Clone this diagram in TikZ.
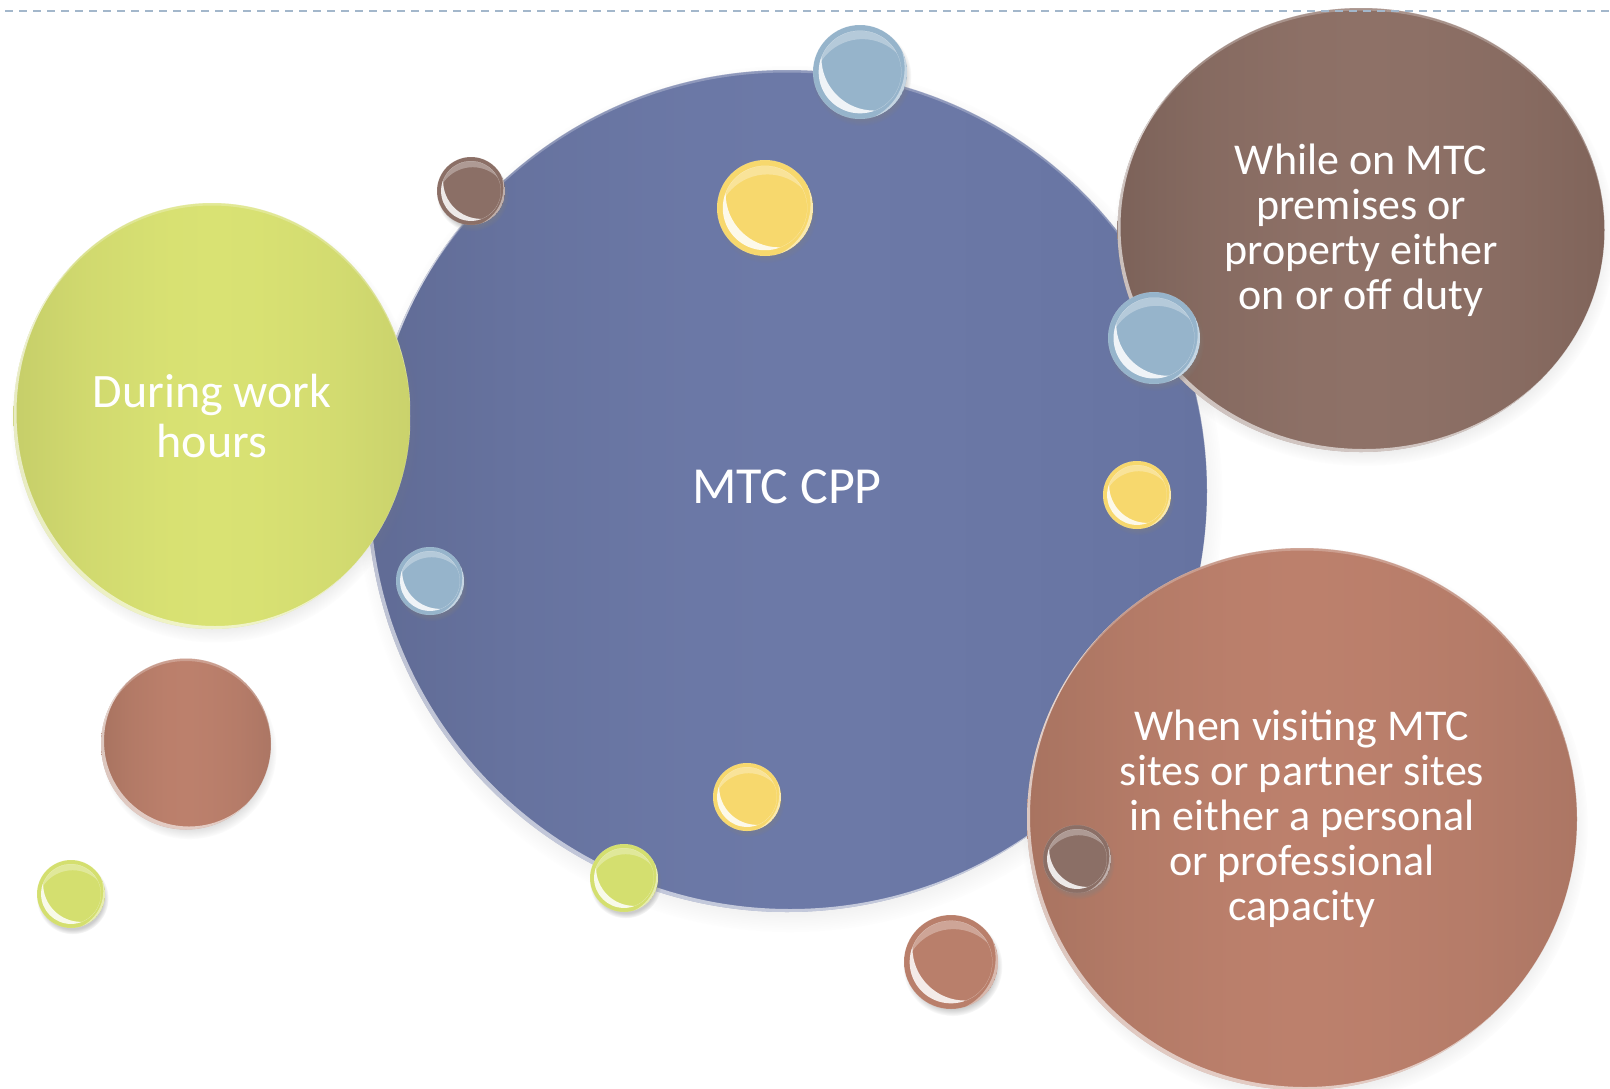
\documentclass[tikz,border=0pt]{standalone}
\usepackage{fontspec}
\setmainfont{Carlito}
\usetikzlibrary{shapes.geometric,shadows,fadings}
\definecolor{dashcol}{HTML}{A3B7CB}
\definecolor{blueL}{HTML}{606B95}
\definecolor{blueM}{HTML}{6C79A7}
\definecolor{blueR}{HTML}{6673A1}
\definecolor{grnL}{HTML}{C6CE69}
\definecolor{grnM}{HTML}{D9E273}
\definecolor{grnR}{HTML}{CAD26C}
\definecolor{mauL}{HTML}{7C6259}
\definecolor{mauM}{HTML}{8E7167}
\definecolor{mauR}{HTML}{80645A}
\definecolor{salL}{HTML}{A87360}
\definecolor{salM}{HTML}{BC806C}
\definecolor{salR}{HTML}{AC7664}
\definecolor{yel}{HTML}{F7D86D}
\definecolor{sky}{HTML}{96B4CB}
\definecolor{lime}{HTML}{D4DF6F}
\definecolor{sal}{HTML}{B97F6B}
\definecolor{mau}{HTML}{8B6F66}

\newcommand\mkshade[4]{\pgfdeclarehorizontalshading{#1}{100bp}{%
  color(0bp)=(#2); color(25bp)=(#2); color(34bp)=(#2!45!#3);
  color(44bp)=(#2!8!#3); color(50bp)=(#3); color(56bp)=(#4!8!#3);
  color(66bp)=(#4!45!#3); color(75bp)=(#4); color(100bp)=(#4)}}
\mkshade{blueshade}{blueL}{blueM}{blueR}
\mkshade{grnshade}{grnL}{grnM}{grnR}
\mkshade{maushade}{mauL}{mauM}{mauR}
\mkshade{salshade}{salL}{salM}{salR}

\newcommand\rimlight[3]{%
  \begin{scope}
    \clip (#1.center) ellipse [x radius=#2pt, y radius=#3pt];
    \fill[white, fill opacity=.6, even odd rule]
      (#1.center) ellipse [x radius=#2pt, y radius=#3pt]
      ([shift={(3pt,3pt)}]#1.center) ellipse [x radius=#2pt, y radius=#3pt];
    \fill[white, fill opacity=.25, even odd rule]
      (#1.center) ellipse [x radius=#2pt, y radius=#3pt]
      ([shift={(0pt,-2.5pt)}]#1.center) ellipse [x radius=#2pt, y radius=#3pt];
  \end{scope}}

\newcommand\bead[5]{%
  \node[beadnode, fill=#5, minimum size={2*#4pt}] (#1) at (#2,#3) {};
  \begin{scope}
    \clip (#1.center) circle [radius={0.88*#4pt}];
    \fill[white, fill opacity=.85, even odd rule]
      (#1.center) circle [radius={0.88*#4pt}]
      ([shift={({0.3*#4pt},{0.3*#4pt})}]#1.center) circle [radius={1.12*#4pt}];
    \fill[white, fill opacity=.3, even odd rule]
      (#1.center) circle [radius={0.9*#4pt}]
      ([shift={({0.05*#4pt},{-0.35*#4pt})}]#1.center) circle [radius={1.05*#4pt}];
  \end{scope}
  \begin{scope}
    \clip (#1.center) circle [radius=#4pt];
    \fill[white, fill opacity=.45, even odd rule]
      (#1.center) circle [radius=#4pt]
      ([shift={({-0.2*#4pt},{0.08*#4pt})}]#1.center) circle [radius={1.15*#4pt}];
  \end{scope}}

\begin{document}
\begin{tikzpicture}[x=1pt,y=-1pt,
  bubble/.style={ellipse, inner sep=0pt, text=white, align=center,
    circular drop shadow={shadow xshift=3pt, shadow yshift=-7pt, opacity=.3, shadow scale=1.03}},
  beadnode/.style={circle, inner sep=0pt,
    circular drop shadow={shadow xshift=1.5pt, shadow yshift=-4pt, opacity=.4, shadow scale=1.06}},
  bluefill/.style={shade, shading=blueshade},
  greenfill/.style={shade, shading=grnshade},
  mauvefill/.style={shade, shading=maushade},
  salmonfill/.style={shade, shading=salshade},
  dashline/.style={dashcol, line width=2pt, dash pattern=on 8pt off 6pt, dash phase=9pt}
]
\useasboundingbox (0,0) rectangle (1610,1088);
\fill[white] (0,0) rectangle (1610,1088);
\begin{scope}
\clip (0,0) rectangle (1610,1088);

\node[bubble, bluefill, minimum width=840pt, minimum height=842pt,
  font=\fontsize{52}{56}\selectfont, text depth=9.5pt] (main) at (787,491) {MTC CPP};
\rimlight{main}{420}{421}

\node[bubble, greenfill, minimum width=397pt, minimum height=426pt,
  font=\fontsize{48}{50}\selectfont] (work) at (212,416) {During work\\hours};
\rimlight{work}{198.5}{213}

\node[bubble, mauvefill, minimum width=487pt, minimum height=444pt,
  font=\fontsize{44}{45}\selectfont] (premises) at (1361,230)
  {While on MTC\\premises or\\property either\\on or off duty};
\rimlight{premises}{243.5}{222}

\node[bubble, salmonfill, minimum width=550pt, minimum height=542pt,
  font=\fontsize{44}{45}\selectfont] (visit) at (1302,819)
  {When visiting MTC\\sites or partner sites\\in either a personal\\or professional\\capacity};
\rimlight{visit}{275}{271}

\node[bubble, salmonfill, minimum width=170pt, minimum height=171pt] (salmon) at (186,744) {};
\rimlight{salmon}{85}{85.5}

\bead{b1}{471}{191}{34}{mau}
\bead{b2}{860}{72}{47}{sky}
\bead{b3}{765}{208}{48}{yel}
\bead{b4}{1154}{338}{46}{sky}
\bead{b5}{1137}{495}{34}{yel}
\bead{b6}{430}{581}{34}{sky}
\bead{b7}{747}{797}{34}{yel}
\bead{b8}{624}{878}{34}{lime}
\bead{b9}{951}{962}{47}{sal}
\bead{b10}{1077}{859}{34}{mau}
\bead{b11}{71}{894}{34}{lime}

\coordinate (dashL) at (0,11);
\coordinate (dashR) at (1610,11);
\draw[dashline] (dashL) -- (dashR);
\end{scope}
\end{tikzpicture}
\end{document}
